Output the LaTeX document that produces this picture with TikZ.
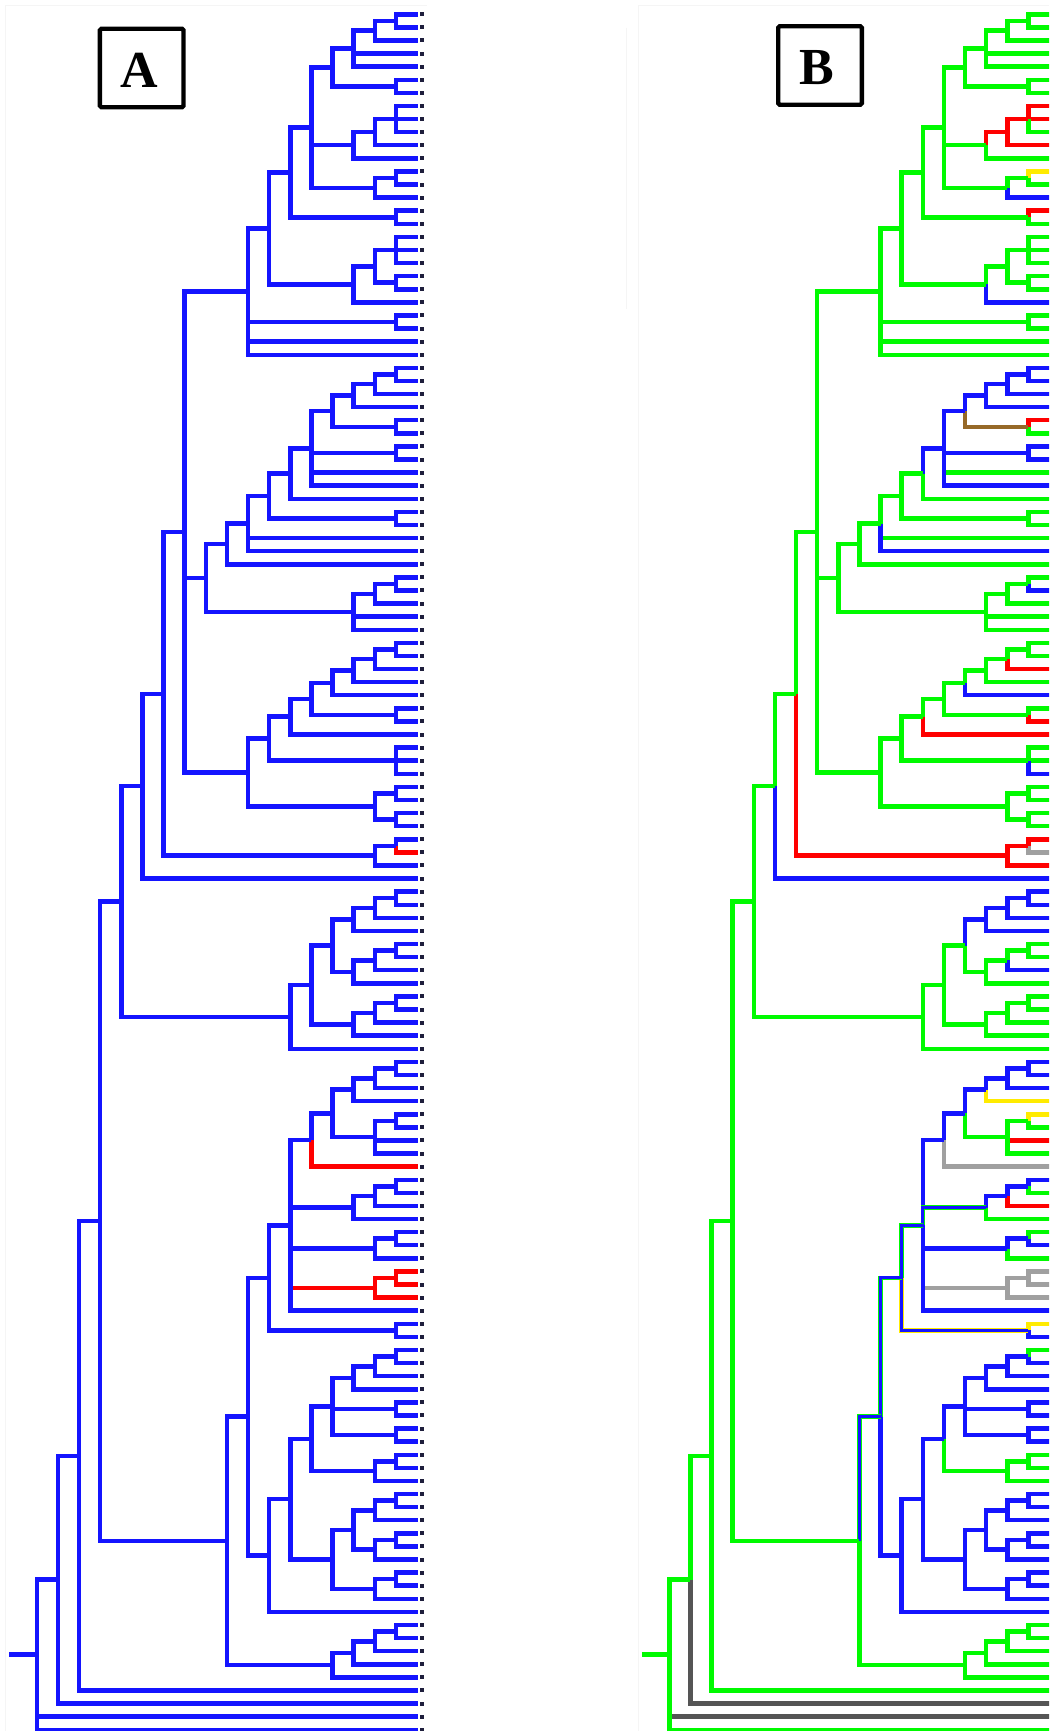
\documentclass[tikz,border=0pt]{standalone}
\usepackage{fontspec}
\setmainfont{Liberation Serif}
\usetikzlibrary{calc}
\definecolor{cB}{RGB}{20,20,255}
\definecolor{cR}{RGB}{255,0,0}
\definecolor{cG}{RGB}{0,250,0}
\definecolor{cY}{RGB}{255,235,0}
\definecolor{cS}{RGB}{160,160,160}
\definecolor{cK}{RGB}{85,85,85}
\definecolor{cO}{RGB}{150,105,40}
\definecolor{cD}{RGB}{30,30,60}
\definecolor{cF}{RGB}{245,245,245}
\newif\ifpanelB
\newcommand\mk[4]{\path let \p1=($(#3)!0.5!(#4)$) in coordinate (#1) at ({(417-21.12*#2)*1pt},\y1);}
\newcommand\edg[4]{\ifpanelB\draw[#4] (#1) |- (#2);\else\draw[#3] (#1) |- (#2);\fi}
\newcommand\EE[4]{\foreach \cc in {#2}{\edg{#1}{\cc}{#3}{#4}}}
\newcommand\rootstub[2]{\ifpanelB\draw[#2] (r0) -- (r18);\else\draw[#1] (r0) -- (r18);\fi}
\newcommand\TreeBody{%
\mk{a1}{1}{L1}{L2}\EE{a1}{L1,L2}{eB}{eG}
\mk{a2}{2}{a1}{L3}\EE{a2}{a1,L3}{eB}{eG}
\mk{a3}{3}{a2}{L5}\EE{a3}{a2,L4,L5}{eB}{eG}
\mk{a4c}{1}{L6}{L7}\EE{a4c}{L6,L7}{eB}{eG}
\mk{a4}{4}{a3}{a4c}\EE{a4}{a3,a4c}{eB}{eG}
\mk{b1}{1}{L8}{L10}\EE{b1}{L8,L9}{eB}{eR}\edg{b1}{L10}{eB}{eG}
\mk{b2}{2}{b1}{L11}\EE{b2}{b1,L11}{eB}{eR}
\mk{b3}{3}{b2}{L12}\edg{b3}{b2}{eB}{eR}\edg{b3}{L12}{eB}{eG}
\mk{c1}{1}{L13}{L14}\edg{c1}{L13}{eB}{eY}\edg{c1}{L14}{eB}{eG}
\mk{c2}{2}{c1}{L15}\edg{c2}{c1}{eB}{eG}\edg{c2}{L15}{eB}{eB}
\mk{a5}{5}{a4}{c2}\EE{a5}{a4,b3,c2}{eB}{eG}
\mk{d1}{1}{L16}{L17}\edg{d1}{L16}{eB}{eR}\edg{d1}{L17}{eB}{eG}
\mk{a6}{6}{a5}{d1}\EE{a6}{a5,d1}{eB}{eG}
\mk{e1}{1}{L18}{L20}\EE{e1}{L18,L19,L20}{eB}{eG}
\mk{e1b}{1}{L21}{L22}\EE{e1b}{L21,L22}{eB}{eG}
\mk{e2}{2}{e1}{e1b}\EE{e2}{e1,e1b}{eB}{eG}
\mk{e3}{3}{e2}{L23}\edg{e3}{e2}{eB}{eG}\edg{e3}{L23}{eB}{eB}
\mk{a7}{7}{a6}{e3}\EE{a7}{a6,e3}{eB}{eG}
\mk{f1}{1}{L24}{L25}\EE{f1}{L24,L25}{eB}{eG}
\mk{a8}{8}{a7}{L27}\EE{a8}{a7,f1,L26,L27}{eB}{eG}
\mk{g1}{1}{L28}{L29}\EE{g1}{L28,L29}{eB}{eB}
\mk{g2}{2}{g1}{L30}\EE{g2}{g1,L30}{eB}{eB}
\mk{g3}{3}{g2}{L31}\EE{g3}{g2,L31}{eB}{eB}
\mk{h1}{1}{L32}{L33}\edg{h1}{L32}{eB}{eR}\edg{h1}{L33}{eB}{eG}
\mk{g4}{4}{g3}{h1}\edg{g4}{g3}{eB}{eB}\edg{g4}{h1}{eB}{eO}
\mk{i1}{1}{L34}{L35}\EE{i1}{L34,L35}{eB}{eB}
\mk{g5}{5}{g4}{L37}\EE{g5}{g4,i1}{eB}{eB}\edg{g5}{L36}{eB}{eG}\edg{g5}{L37}{eB}{eB}
\mk{g6}{6}{g5}{L38}\edg{g6}{g5}{eB}{eB}\edg{g6}{L38}{eB}{eG}
\mk{j1}{1}{L39}{L40}\EE{j1}{L39,L40}{eB}{eG}
\mk{g7}{7}{g6}{j1}\EE{g7}{g6,j1}{eB}{eG}
\mk{g8}{8}{g7}{L42}\EE{g8}{g7,L41}{eB}{eG}\edg{g8}{L42}{eB}{eB}
\mk{g9}{9}{g8}{L43}\EE{g9}{g8,L43}{eB}{eG}
\mk{k1n}{1}{L44}{L45}\edg{k1n}{L44}{eB}{eG}\edg{k1n}{L45}{eB}{eB}
\mk{k2n}{2}{k1n}{L46}\EE{k2n}{k1n,L46}{eB}{eG}
\mk{k3n}{3}{k2n}{L48}\EE{k3n}{k2n,L47,L48}{eB}{eG}
\mk{g10}{10}{g9}{k3n}\EE{g10}{g9,k3n}{eB}{eG}
\mk{m1}{1}{L49}{L50}\EE{m1}{L49,L50}{eB}{eG}
\mk{m2}{2}{m1}{L51}\edg{m2}{m1}{eB}{eG}\edg{m2}{L51}{eB}{eR}
\mk{m3}{3}{m2}{L52}\EE{m3}{m2,L52}{eB}{eG}
\mk{m4}{4}{m3}{L53}\edg{m4}{m3}{eB}{eG}\edg{m4}{L53}{eB}{eB}
\mk{n1}{1}{L54}{L55}\edg{n1}{L54}{eB}{eG}\edg{n1}{L55}{eB}{eR}
\mk{m5}{5}{m4}{n1}\EE{m5}{m4,n1}{eB}{eG}
\mk{m6}{6}{m5}{L56}\edg{m6}{m5}{eB}{eG}\edg{m6}{L56}{eB}{eR}
\mk{o1}{1}{L57}{L59}\EE{o1}{L57,L58}{eB}{eG}\edg{o1}{L59}{eB}{eB}
\mk{m7}{7}{m6}{o1}\EE{m7}{m6,o1}{eB}{eG}
\mk{p1}{1}{L60}{L61}\EE{p1}{L60,L61}{eB}{eG}
\mk{p1b}{1}{L62}{L63}\EE{p1b}{L62,L63}{eB}{eG}
\mk{p2}{2}{p1}{p1b}\EE{p2}{p1,p1b}{eB}{eG}
\mk{m8}{8}{m7}{p2}\EE{m8}{m7,p2}{eB}{eG}
\mk{r11}{11}{a8}{m8}\EE{r11}{a8,g10,m8}{eB}{eG}
\mk{q1}{1}{L64}{L65}\edg{q1}{L64}{eB}{eR}\edg{q1}{L65}{eR}{eS}
\mk{q2}{2}{q1}{L66}\EE{q2}{q1,L66}{eB}{eR}
\mk{r12}{12}{r11}{q2}\edg{r12}{r11}{eB}{eG}\edg{r12}{q2}{eB}{eR}
\mk{r13}{13}{r12}{L67}\edg{r13}{r12}{eB}{eG}\edg{r13}{L67}{eB}{eB}
\mk{s1}{1}{L68}{L69}\EE{s1}{L68,L69}{eB}{eB}
\mk{s2}{2}{s1}{L70}\EE{s2}{s1,L70}{eB}{eB}
\mk{s3}{3}{s2}{L71}\EE{s3}{s2,L71}{eB}{eB}
\mk{t1}{1}{L72}{L73}\EE{t1}{L72,L73}{eB}{eG}
\mk{t2}{2}{t1}{L74}\edg{t2}{t1}{eB}{eG}\edg{t2}{L74}{eB}{eB}
\mk{t3}{3}{t2}{L75}\EE{t3}{t2,L75}{eB}{eG}
\mk{s4}{4}{s3}{t3}\edg{s4}{s3}{eB}{eB}\edg{s4}{t3}{eB}{eG}
\mk{u1}{1}{L76}{L77}\EE{u1}{L76,L77}{eB}{eG}
\mk{u2}{2}{u1}{L78}\EE{u2}{u1,L78}{eB}{eG}
\mk{u3}{3}{u2}{L79}\EE{u3}{u2,L79}{eB}{eG}
\mk{s5}{5}{s4}{u3}\EE{s5}{s4,u3}{eB}{eG}
\mk{s6}{6}{s5}{L80}\EE{s6}{s5,L80}{eB}{eG}
\mk{r14}{14}{r13}{s6}\EE{r14}{r13,s6}{eB}{eG}
\mk{v1}{1}{L81}{L82}\EE{v1}{L81,L82}{eB}{eB}
\mk{v2}{2}{v1}{L83}\EE{v2}{v1,L83}{eB}{eB}
\mk{v3}{3}{v2}{L84}\edg{v3}{v2}{eB}{eB}\edg{v3}{L84}{eB}{eY}
\mk{w1}{1}{L85}{L86}\edg{w1}{L85}{eB}{eY}\edg{w1}{L86}{eB}{eG}
\mk{w2}{2}{w1}{L88}\edg{w2}{w1}{eB}{eG}\edg{w2}{L87}{eB}{eR}\edg{w2}{L88}{eB}{eG}
\mk{v4}{4}{v3}{w2}\edg{v4}{v3}{eB}{eB}\edg{v4}{w2}{eB}{eG}
\mk{v5}{5}{v4}{L89}\edg{v5}{v4}{eB}{eB}\edg{v5}{L89}{eR}{eS}
\mk{x1}{1}{L90}{L91}\edg{x1}{L90}{eB}{eB}\edg{x1}{L91}{eB}{eG}
\mk{x2}{2}{x1}{L92}\edg{x2}{x1}{eB}{eB}\edg{x2}{L92}{eB}{eR}
\mk{x3}{3}{x2}{L93}\edg{x3}{x2}{eB}{eB}\edg{x3}{L93}{eB}{eG}
\mk{y1}{1}{L94}{L95}\edg{y1}{L94}{eB}{eG}\edg{y1}{L95}{eB}{eB}
\mk{y2}{2}{y1}{L96}\edg{y2}{y1}{eB}{eB}\edg{y2}{L96}{eB}{eG}
\mk{z1}{1}{L97}{L98}\EE{z1}{L97,L98}{eR}{eS}
\mk{z2}{2}{z1}{L99}\EE{z2}{z1,L99}{eR}{eS}
\mk{v6}{6}{v5}{L100}\edg{v6}{v5}{eB}{eB}\edg{v6}{x3}{eB}{eBG}\edg{v6}{y2}{eB}{eB}\edg{v6}{z2}{eR}{eS}\edg{v6}{L100}{eB}{eB}
\mk{v7b}{1}{L101}{L102}\edg{v7b}{L101}{eB}{eY}\edg{v7b}{L102}{eB}{eB}
\mk{v7}{7}{v6}{v7b}\edg{v7}{v6}{eB}{eBG}\edg{v7}{v7b}{eB}{eBY}
\mk{W1}{1}{L103}{L104}\edg{W1}{L103}{eB}{eG}\edg{W1}{L104}{eB}{eB}
\mk{W2}{2}{W1}{L105}\EE{W2}{W1,L105}{eB}{eB}
\mk{W3}{3}{W2}{L106}\EE{W3}{W2,L106}{eB}{eB}
\mk{X1}{1}{L107}{L108}\EE{X1}{L107,L108}{eB}{eB}
\mk{Y1}{1}{L109}{L110}\EE{Y1}{L109,L110}{eB}{eB}
\mk{W4}{4}{W3}{Y1}\EE{W4}{W3,X1,Y1}{eB}{eB}
\mk{Z1}{1}{L111}{L112}\EE{Z1}{L111,L112}{eB}{eG}
\mk{Z2}{2}{Z1}{L113}\EE{Z2}{Z1,L113}{eB}{eG}
\mk{W5}{5}{W4}{Z2}\edg{W5}{W4}{eB}{eB}\edg{W5}{Z2}{eB}{eG}
\mk{P1}{1}{L114}{L115}\EE{P1}{L114,L115}{eB}{eB}
\mk{P2}{2}{P1}{L116}\EE{P2}{P1,L116}{eB}{eB}
\mk{Q1}{1}{L117}{L118}\EE{Q1}{L117,L118}{eB}{eB}
\mk{Q2}{2}{Q1}{L119}\EE{Q2}{Q1,L119}{eB}{eB}
\mk{P3}{3}{P2}{Q2}\EE{P3}{P2,Q2}{eB}{eB}
\mk{R1}{1}{L120}{L121}\EE{R1}{L120,L121}{eB}{eB}
\mk{R2}{2}{R1}{L122}\EE{R2}{R1,L122}{eB}{eB}
\mk{P4}{4}{P3}{R2}\EE{P4}{P3,R2}{eB}{eB}
\mk{W6}{6}{W5}{P4}\EE{W6}{W5,P4}{eB}{eB}
\mk{W7}{7}{W6}{L123}\EE{W7}{W6,L123}{eB}{eB}
\mk{T8}{8}{v7}{W7}\edg{T8}{v7}{eB}{eBG}\edg{T8}{W7}{eB}{eB}
\mk{U1}{1}{L124}{L125}\EE{U1}{L124,L125}{eB}{eG}
\mk{U2}{2}{U1}{L126}\EE{U2}{U1,L126}{eB}{eG}
\mk{U3}{3}{U2}{L127}\EE{U3}{U2,L127}{eB}{eG}
\mk{U4}{4}{U3}{L128}\EE{U4}{U3,L128}{eB}{eG}
\mk{T9}{9}{T8}{U4}\edg{T9}{T8}{eB}{eBG}\edg{T9}{U4}{eB}{eG}
\mk{r15}{15}{r14}{T9}\EE{r15}{r14,T9}{eB}{eG}
\mk{r16}{16}{r15}{L129}\EE{r16}{r15,L129}{eB}{eG}
\mk{r17}{17}{r16}{L130}\edg{r17}{r16}{eB}{eG}\edg{r17}{L130}{eB}{eK}
\mk{r18}{18}{r17}{L132}\edg{r18}{r17}{eB}{eG}\edg{r18}{L131}{eB}{eK}\edg{r18}{L132}{eB}{eG}
\path let \p1=(r18) in coordinate (r0) at ({9.3pt},\y1);
\rootstub{eB}{eG}
}
\begin{document}
\begin{tikzpicture}[x=1pt,y=-1pt,line width=4.5pt,
  eB/.style={draw=cB}, eR/.style={draw=cR}, eG/.style={draw=cG},
  eY/.style={draw=cY}, eS/.style={draw=cS}, eK/.style={draw=cK},
  eO/.style={draw=cO},
  eBG/.style={draw=cG,double=cB,double distance=2.9pt,line width=0.8pt},
  eBY/.style={draw=cY,double=cB,double distance=2.9pt,line width=0.8pt},
  faint/.style={draw=cF,line width=1pt},
  labbox/.style={draw=black,line width=4.3pt,rounded corners=1.5pt,inner sep=0pt,minimum width=83.7pt,minimum height=78.4pt},
  labtxt/.style={inner sep=0pt,font=\bfseries\fontsize{52}{52}\selectfont}]
\useasboundingbox (0,0) rectangle (1049,1731);
\clip (0,0) rectangle (1049,1731);
\fill[white] (0,0) rectangle (1049,1731);
% faint panel frames
\draw[faint] (5.7,1731) -- (5.7,5.7) -- (427,5.7);
\draw[faint] (638,1731) -- (638,5.7) -- (1049,5.7);
\draw[faint] (626,28) -- (626,309);
% panel A
\foreach \i in {1,...,132} \coordinate (L\i) at (418,{14.3+13.095*(\i-1)});
\panelBfalse
\TreeBody
\foreach \i in {1,...,132} \fill[cD] ($(L\i)+(1.6,-2)$) rectangle ($(L\i)+(6,2)$);
\node[labbox] (boxA) at (141.7,68) {};
\node[labtxt] (labA) at (138.8,70) {A};
% panel B
\begin{scope}[xshift=632.5pt,name prefix=B-]
\foreach \i in {1,...,132} \coordinate (L\i) at (418,{14.3+13.095*(\i-1)});
\panelBtrue
\TreeBody
\end{scope}
\node[labbox] (boxB) at (820,65.5) {};
\node[labtxt] (labB) at (816.5,67.5) {B};
\end{tikzpicture}
\end{document}
